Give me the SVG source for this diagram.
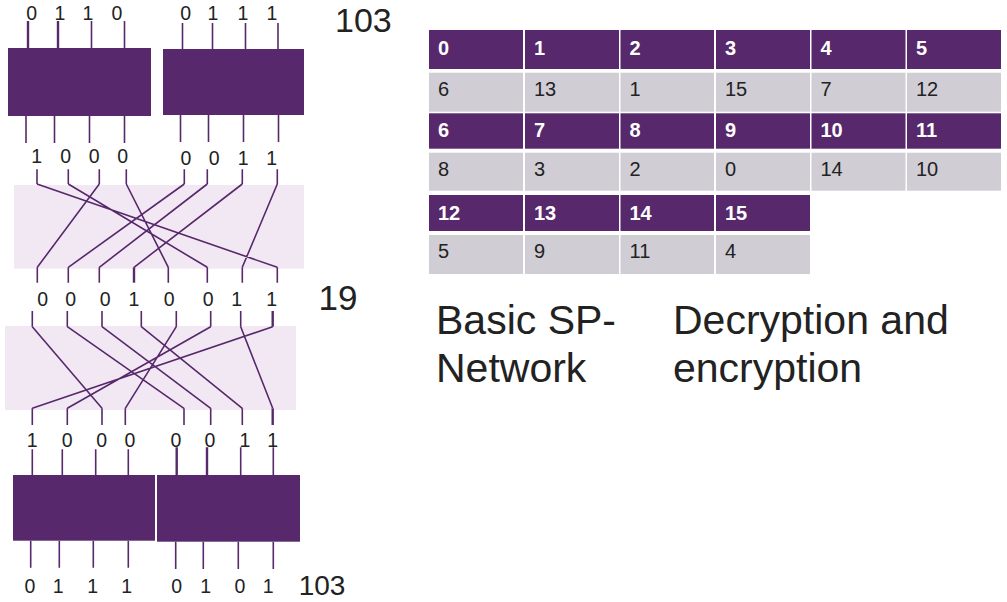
<svg xmlns="http://www.w3.org/2000/svg" width="1007" height="602" viewBox="0 0 1007 602">
<style>
.box{fill:#57286b}
.pbox{fill:#f2e8f3}
.w{stroke:#57286b;stroke-width:1.6;fill:none}
.t{stroke-width:2.4}
.bit{font-family:"Liberation Sans",Arial,sans-serif;font-size:19.5px;fill:#222;text-anchor:middle}
.big{font-family:"Liberation Sans",Arial,sans-serif;fill:#222}
.hd{fill:#57286b}
.vc{fill:#d0cdd5}
.ht{font-family:"Liberation Sans",Arial,sans-serif;font-size:20px;font-weight:bold;fill:#fff}
.vt{font-family:"Liberation Sans",Arial,sans-serif;font-size:20px;fill:#222}
</style>
<rect width="1007" height="602" fill="#fff"/>
<g id="pbox1"><rect class="pbox" x="14" y="185" width="290" height="83.7"/></g>
<g id="pbox2"><rect class="pbox" x="5" y="326" width="291" height="84"/></g>
<g id="sbox-top-1"><rect class="box" x="8" y="48" width="143" height="68"/></g>
<g id="sbox-top-2"><rect class="box" x="163" y="49" width="141" height="66"/></g>
<g id="sbox-bot-1"><rect class="box" x="13" y="475" width="142" height="65.7"/></g>
<g id="sbox-bot-2"><rect class="box" x="157" y="475" width="143" height="66.7"/></g>
<g id="connectors">
<path class="w t" d="M28 21V48M58 21V48"/>
<path class="w" d="M91.5 21V48M124.5 21V48M182.5 23V49M212.5 23V49M245.5 23V49M278 23V49"/>
<path class="w" d="M26 116V143M54.5 116V143M89.5 116V143M124.5 116V143M180.5 115V142M208.5 115V142M243.5 115V142M278.5 115V142"/>
<path class="w" d="M37 169.3V184M68.3 169.3V184M99.3 169.3V184M126.3 169.3V184M184.3 169.3V184M207.3 169.3V184M242.3 169.3V184M277.3 169.3V184"/>
<path class="w" d="M37 184L277.3 267.3M68.3 184L207.3 267.3M99.3 184L37.3 267.3M126.3 184L168.3 267.3M184.3 184L68.3 267.3M207.3 184L99.3 267.3M242.3 184L134 267.3M277.3 184L242.3 267.3"/>
<path class="w" d="M37.3 267.3V282.7M68.3 267.3V282.7M99.3 267.3V282.7M168.3 267.3V282.7M207.3 267.3V282.7M242.3 267.3V282.7M277.3 267.3V282.7"/>
<path class="w t" d="M134 267.3V282.7"/>
<path class="w" d="M32.3 311V326.7M67.3 311V326.7M102 311V326.7M141.3 311V326.7M176.3 311V326.7M210.7 311V326.7M240.7 311V326.7"/>
<path class="w t" d="M272.7 311V326.7"/>
<path class="w" d="M32.3 326.7L102 408.3M67.3 326.7L184 408.3M102 326.7L210.7 408.3M141.3 326.7L242.3 408.3M176.3 326.7L125.3 408.3M210.7 326.7L67.3 408.3M240.7 326.7L272.7 408.3M272.7 326.7L32.3 408.3"/>
<path class="w" d="M32.3 408.3V425M67.3 408.3V425M102 408.3V425M125.3 408.3V425M184 408.3V425M210.7 408.3V425M242.3 408.3V425"/>
<path class="w t" d="M272.7 408.3V425"/>
<path class="w" d="M32.3 449.3V475M62.3 449.3V475M95.7 449.3V475M128.3 449.3V475M240.7 447.3V475M273.3 447.3V475"/>
<path class="w t" d="M176.7 447.3V475M207 447.3V475"/>
<path class="w" d="M30.7 540.7V567.7M59.3 540.7V567.7M93.3 540.7V567.7M128.3 540.7V567.7M175.7 541.7V569M203.3 541.7V569M238.3 541.7V569M273.3 541.7V569"/>
</g>
<g id="bits">
<text class="bit" y="20"><tspan x="31.7">0</tspan><tspan x="60">1</tspan><tspan x="88">1</tspan><tspan x="117">0</tspan><tspan x="185.7">0</tspan><tspan x="213">1</tspan><tspan x="243">1</tspan><tspan x="272">1</tspan></text>
<text class="bit" y="163"><tspan x="36.7">1</tspan><tspan x="65.7">0</tspan><tspan x="94.3">0</tspan><tspan x="122.7">0</tspan></text>
<text class="bit" y="165"><tspan x="186">0</tspan><tspan x="214.3">0</tspan><tspan x="243.3">1</tspan><tspan x="271.7">1</tspan></text>
<text class="bit" y="306"><tspan x="42.7">0</tspan><tspan x="70.7">0</tspan><tspan x="105.3">0</tspan><tspan x="134">1</tspan><tspan x="169.3">0</tspan><tspan x="208.3">0</tspan><tspan x="236.7">1</tspan><tspan x="271.7">1</tspan></text>
<text class="bit" y="446.7"><tspan x="32.3">1</tspan><tspan x="67.3">0</tspan><tspan x="101.7">0</tspan><tspan x="130">0</tspan><tspan x="176">0</tspan><tspan x="210">0</tspan><tspan x="245">1</tspan><tspan x="272.7">1</tspan></text>
<text class="bit" y="592.7"><tspan x="30">0</tspan><tspan x="58.3">1</tspan><tspan x="92.7">1</tspan><tspan x="126.7">1</tspan><tspan x="176.7">0</tspan><tspan x="205.7">1</tspan><tspan x="240">0</tspan><tspan x="268.3">1</tspan></text>
</g>
<g id="numbers">
<text class="big" x="335" y="31.7" font-size="34">103</text>
<text class="big" x="318.5" y="310" font-size="35">19</text>
<text class="big" x="298.7" y="595" font-size="28">103</text>
</g>
<g id="table">
<rect class="hd" x="429" y="30" width="94" height="39"/><rect class="hd" x="525" y="30" width="94" height="39"/><rect class="hd" x="620.5" y="30" width="93.5" height="39"/><rect class="hd" x="716" y="30" width="94" height="39"/><rect class="hd" x="811.5" y="30" width="94" height="39"/><rect class="hd" x="907" y="30" width="94" height="39"/>
<rect class="vc" x="429" y="72.7" width="94" height="39"/><rect class="vc" x="525" y="72.7" width="94" height="39"/><rect class="vc" x="620.5" y="72.7" width="93.5" height="39"/><rect class="vc" x="716" y="72.7" width="94" height="39"/><rect class="vc" x="811.5" y="72.7" width="94" height="39"/><rect class="vc" x="907" y="72.7" width="94" height="39"/>
<rect class="hd" x="429" y="113.3" width="94" height="35.4"/><rect class="hd" x="525" y="113.3" width="94" height="35.4"/><rect class="hd" x="620.5" y="113.3" width="93.5" height="35.4"/><rect class="hd" x="716" y="113.3" width="94" height="35.4"/><rect class="hd" x="811.5" y="113.3" width="94" height="35.4"/><rect class="hd" x="907" y="113.3" width="94" height="35.4"/>
<rect class="vc" x="429" y="152.7" width="94" height="38"/><rect class="vc" x="525" y="152.7" width="94" height="38"/><rect class="vc" x="620.5" y="152.7" width="93.5" height="38"/><rect class="vc" x="716" y="152.7" width="94" height="38"/><rect class="vc" x="811.5" y="152.7" width="94" height="38"/><rect class="vc" x="907" y="152.7" width="94" height="38"/>
<rect class="hd" x="429" y="195" width="94" height="36"/><rect class="hd" x="525" y="195" width="94" height="36"/><rect class="hd" x="620.5" y="195" width="93.5" height="36"/><rect class="hd" x="716" y="195" width="94" height="36"/>
<rect class="vc" x="429" y="235" width="94" height="39"/><rect class="vc" x="525" y="235" width="94" height="39"/><rect class="vc" x="620.5" y="235" width="93.5" height="39"/><rect class="vc" x="716" y="235" width="94" height="39"/>
<text class="ht" y="54.5"><tspan x="438">0</tspan><tspan x="534">1</tspan><tspan x="629.5">2</tspan><tspan x="725">3</tspan><tspan x="820.5">4</tspan><tspan x="916">5</tspan></text>
<text class="vt" y="95.5"><tspan x="438">6</tspan><tspan x="534">13</tspan><tspan x="629.5">1</tspan><tspan x="725">15</tspan><tspan x="820.5">7</tspan><tspan x="916">12</tspan></text>
<text class="ht" y="137"><tspan x="438">6</tspan><tspan x="534">7</tspan><tspan x="629.5">8</tspan><tspan x="725">9</tspan><tspan x="820.5">10</tspan><tspan x="916">11</tspan></text>
<text class="vt" y="176"><tspan x="438">8</tspan><tspan x="534">3</tspan><tspan x="629.5">2</tspan><tspan x="725">0</tspan><tspan x="820.5">14</tspan><tspan x="916">10</tspan></text>
<text class="ht" y="219.5"><tspan x="438">12</tspan><tspan x="534">13</tspan><tspan x="629.5">14</tspan><tspan x="725">15</tspan></text>
<text class="vt" y="257.5"><tspan x="438">5</tspan><tspan x="534">9</tspan><tspan x="629.5">11</tspan><tspan x="725">4</tspan></text>
</g>
<g id="captions">
<text class="big" font-size="41"><tspan x="436" y="334">Basic SP-</tspan><tspan x="436" y="382">Network</tspan></text>
<text class="big" font-size="41"><tspan x="673" y="334">Decryption and</tspan><tspan x="673" y="382">encryption</tspan></text>
</g>
</svg>
